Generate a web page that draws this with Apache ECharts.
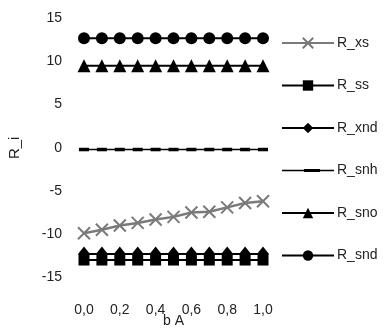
<!DOCTYPE html>
<html><head><meta charset="utf-8">
<script src="https://cdn.jsdelivr.net/npm/echarts@6/dist/echarts.min.js"></script>
<style>html,body{margin:0;padding:0;background:#fff}#c{width:388px;height:331px}</style>
</head><body><div id="c"></div>
<script>
var xValues = [0.0, 0.1, 0.2, 0.3, 0.4, 0.5, 0.6, 0.7, 0.8, 0.9, 1.0];
var R_xs  = [-9.9, -9.5, -9.0, -8.7, -8.3, -8.0, -7.5, -7.4, -6.9, -6.4, -6.2];
var R_ss  = [-13.0, -13.0, -13.0, -13.0, -13.0, -13.0, -13.0, -13.0, -13.0, -13.0, -13.0];
var R_xnd = [-12.3, -12.3, -12.3, -12.3, -12.3, -12.3, -12.3, -12.3, -12.3, -12.3, -12.3];
var R_snh = [-0.2, -0.2, -0.2, -0.2, -0.2, -0.2, -0.2, -0.2, -0.2, -0.2, -0.2];
var R_sno = [9.5, 9.5, 9.5, 9.5, 9.5, 9.5, 9.5, 9.5, 9.5, 9.5, 9.5];
var R_snd = [12.7, 12.7, 12.7, 12.7, 12.7, 12.7, 12.7, 12.7, 12.7, 12.7, 12.7];
var yTicks = [-15, -10, -5, 0, 5, 10, 15];
var legendNames = ['R_xs', 'R_ss', 'R_xnd', 'R_snh', 'R_sno', 'R_snd'];

function pairs(v){ return xValues.map(function(x,i){ return [x, v[i]]; }); }
var FONT = 'Liberation Sans, Arial, sans-serif';
var chart = echarts.init(document.getElementById('c'), null, {renderer:'canvas'});
function ser(name, data, symbol, size, color, lw){
  return {name:name, type:'line', data:pairs(data), symbol:symbol, symbolSize:size,
    showAllSymbol:true, lineStyle:{color:color, width:lw}, itemStyle:{color:color},
    emphasis:{disabled:true}, animation:false, z: 2};
}
var xsSeries = ser('R_xs', R_xs, 'path://M0,0L10,10M10,0L0,10', 12, '#7a7a7a', 2.5);
xsSeries.itemStyle = {color:'rgba(0,0,0,0)', borderColor:'#7a7a7a', borderWidth:2};
var legendData = legendNames.map(function(n){
  if (n === 'R_snh') return {name:n, icon:'path://M0,0.8H52V2.2H0Z M22,0H38V3H22Z'};
  return {name:n};
});
chart.setOption({
  backgroundColor:'#fff',
  animation:false,
  textStyle:{fontFamily:FONT},
  grid:{left:84, right:125, top:18.3, bottom:53.7, outerBoundsMode:'none', containLabel:false},
  legend:{orient:'vertical', left:276, top:31, itemWidth:52, itemHeight:13, itemGap:28.5,
    textStyle:{fontSize:14, color:'#222', fontFamily:FONT, padding:[0,0,0,-2]},
    data:legendData},
  xAxis:{type:'value', min:0, max:1, interval:0.2, name:'b A', nameLocation:'middle', nameGap:37,
    nameMoveOverlap:false,
    nameTextStyle:{fontSize:14, color:'#222', fontFamily:FONT},
    axisLine:{show:false}, axisTick:{show:false}, splitLine:{show:false},
    axisLabel:{fontSize:14, color:'#222', margin:26, fontFamily:FONT,
      formatter:function(v){ return v.toFixed(1).replace('.', ','); }}},
  yAxis:{type:'value', min:yTicks[0], max:yTicks[yTicks.length-1], interval:5, name:'R_i', nameLocation:'middle', nameGap:62,
    nameMoveOverlap:false,
    nameTextStyle:{fontSize:15, color:'#222', fontFamily:FONT},
    axisLine:{show:false}, axisTick:{show:false}, splitLine:{show:false},
    axisLabel:{fontSize:14, color:'#222', margin:22, fontFamily:FONT}},
  series:[
    xsSeries,
    ser('R_ss', R_ss, 'rect', 11, '#000', 2),
    ser('R_xnd', R_xnd, 'diamond', [12,15], '#000', 2),
    ser('R_snh', R_snh, 'rect', [10,3.5], '#000', 1.5),
    ser('R_sno', R_sno, 'triangle', 13, '#000', 2),
    ser('R_snd', R_snd, 'circle', 12, '#000', 2)
  ]
});
</script></body></html>
